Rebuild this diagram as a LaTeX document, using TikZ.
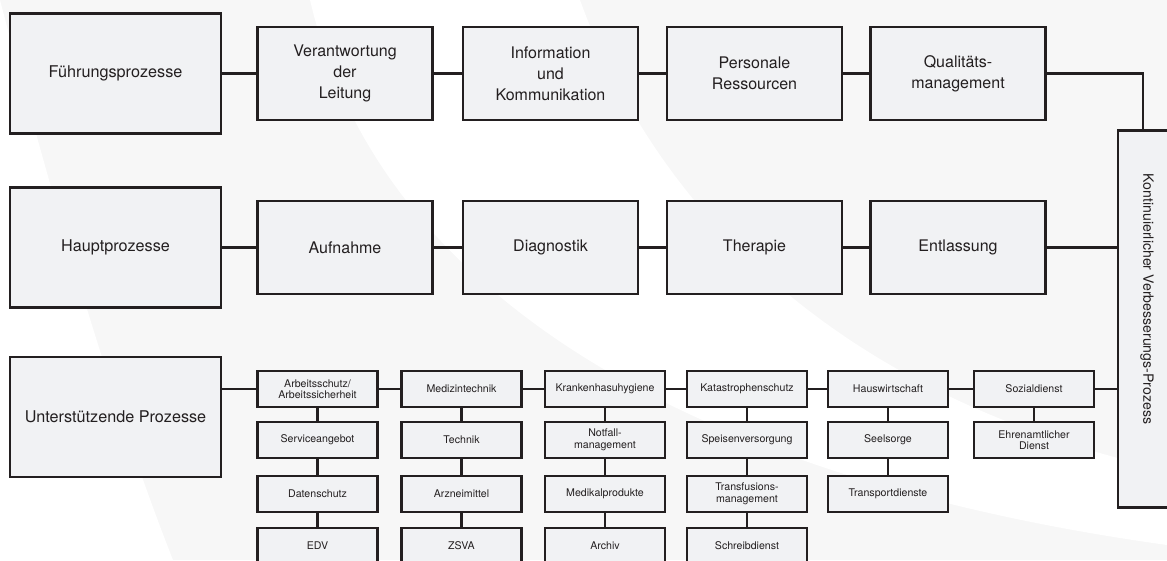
\documentclass[tikz,border=0pt]{standalone}
\usepackage{fontspec}
\setmainfont{TeX Gyre Heros}
\definecolor{boxfill}{HTML}{F1F2F4}
\definecolor{ink}{HTML}{231F20}
\definecolor{bggray}{HTML}{F7F7F7}

\begin{document}
\begin{tikzpicture}[x=1pt,y=-1pt,line width=2.6pt,draw=ink]
\tikzstyle{proc}=[draw=ink,fill=boxfill,rectangle,inner sep=0pt,align=center,text=ink]
\tikzstyle{group}=[proc,minimum width=211pt,minimum height=120pt,font=\fontsize{16.2}{20}\selectfont]
\tikzstyle{stage}=[proc,minimum width=175pt,minimum height=93pt,font=\fontsize{16}{21}\selectfont]
\tikzstyle{task}=[proc,minimum width=120pt,minimum height=36pt,font=\fontsize{10.6}{11.5}\selectfont]
\useasboundingbox (0,0) rectangle (1167,560);
% background swoosh
\fill[bggray] (0,0) rectangle (1167,560);
\fill[white] (0,0) .. controls (50,190) and (110,400) .. (173,560) -- (0,560) -- cycle;
\fill[white] (310,0) .. controls (380,300) and (700,480) .. (1167,545) -- (1167,470)
  .. controls (850,400) and (660,220) .. (580,0) -- cycle;
% Fuehrungsprozesse
\node[group] (fp) at (115.5,73.5) {Führungsprozesse};
\node[stage] (vl) at (345,73.5) {Verantwortung\\der\\Leitung};
\node[stage] (ik) at (550.5,73.5) {Information\\und\\Kommunikation};
\node[stage] (pr) at (754.5,73.5) {Personale\\Ressourcen};
\node[stage] (qm) at (958,73.5) {Qualitäts-\\management};
% Hauptprozesse
\node[group] (hp) at (115.5,247.5) {Hauptprozesse};
\node[stage] (af) at (345,247.5) {Aufnahme};
\node[stage] (dg) at (550.5,247.5) {Diagnostik};
\node[stage] (th) at (754.5,247.5) {Therapie};
\node[stage] (el) at (958,247.5) {Entlassung};
% KVP
\node[proc,minimum width=61pt,minimum height=377pt] (kvp) at (1148.5,319) {};
\node[text=ink,rotate=-90,font=\fontsize{14.1}{16}\selectfont] (kvptext) at (1147,299) {Kontinuierlicher Verbesserungs-Prozess};
% Unterstuetzende Prozesse
\node[group] (up) at (115.5,417) {Unterstützende Prozesse};
\node[task] (as) at (317.5,389) {Arbeitsschutz/\\Arbeitssicherheit};
\node[task] (sa) at (317.5,440) {Serviceangebot};
\node[task] (ds) at (317.5,494) {Datenschutz};
\node[task] (edv) at (317.5,546) {EDV};
\node[task] (mt) at (461.5,389) {Medizintechnik};
\node[task] (te) at (461.5,440) {Technik};
\node[task] (am) at (461.5,494) {Arzneimittel};
\node[task] (zs) at (461.5,546) {ZSVA};
\node[task] (kh) at (605,389) {Krankenhasuhygiene};
\node[task] (nm) at (605,440) {Notfall-\\management};
\node[task] (mp) at (605,494) {Medikalprodukte};
\node[task] (ar) at (605,546) {Archiv};
\node[task] (ks) at (747,389) {Katastrophenschutz};
\node[task] (sv) at (747,440) {Speisenversorgung};
\node[task] (tm) at (747,494) {Transfusions-\\management};
\node[task] (sd) at (747,546) {Schreibdienst};
\node[task] (hw) at (888,389) {Hauswirtschaft};
\node[task] (ss) at (888,440) {Seelsorge};
\node[task] (td) at (888,494) {Transportdienste};
\node[task] (sz) at (1034,389) {Sozialdienst};
\node[task] (ed) at (1034,440) {Ehrenamtlicher\\Dienst};
% connectors
\draw (fp) -- (vl) -- (ik) -- (pr) -- (qm);
\draw (qm.east) -| ([xshift=-5.5pt]kvp.north);
\draw (hp) -- (af) -- (dg) -- (th) -- (el) -- (el -| kvp.west);
\draw (as -| up.east) -- (as) -- (mt) -- (kh) -- (ks) -- (hw) -- (sz) -- (sz -| kvp.west);
\draw (as) -- (sa) -- (ds) -- (edv);
\draw (mt) -- (te) -- (am) -- (zs);
\draw (kh) -- (nm) -- (mp) -- (ar);
\draw (ks) -- (sv) -- (tm) -- (sd);
\draw (hw) -- (ss) -- (td);
\draw (sz) -- (ed);
\end{tikzpicture}
\end{document}
